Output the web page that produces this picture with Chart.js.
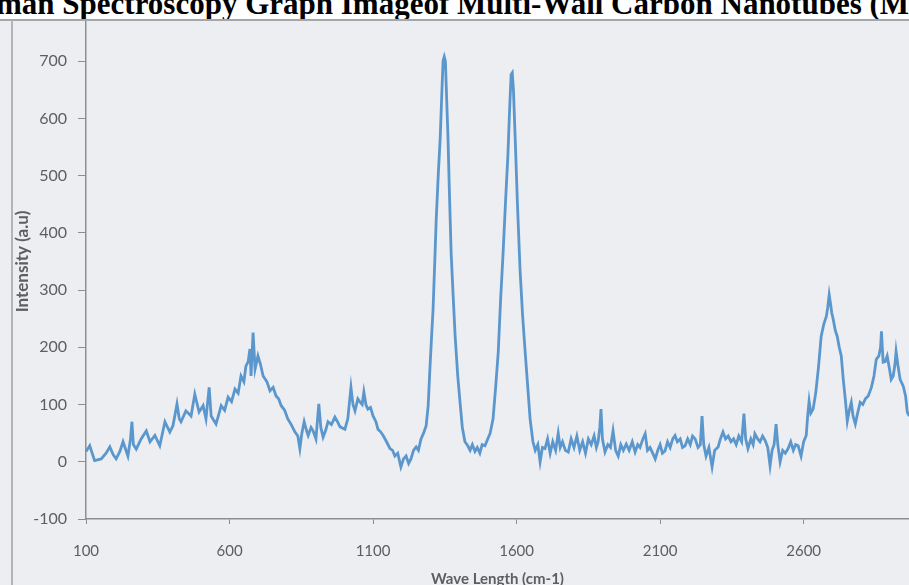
<!DOCTYPE html>
<html lang="en">
<head>
<meta charset="UTF-8">
<title>Raman Spectroscopy - MWCNTs</title>
<script src="https://cdn.jsdelivr.net/npm/chart.js"></script>
<style>
    html, body {
        margin: 0;
        padding: 0;
        background: #ffffff;
    }

    /* photographed sheet */
    .sheet {
        position: relative;
        width: 909px;
        height: 585px;
        overflow: hidden;
        background: #eceef2;
    }

    .sheet canvas {
        position: absolute;
        left: 0;
        top: 0;
    }

    /* caption of the document, cut at the top */
    .caption {
        position: absolute;
        left: 0;
        top: 0;
        width: 909px;
        height: 19px;
        overflow: hidden;
        background: #ffffff;
        z-index: 2;
    }

    .caption span {
        position: absolute;
        left: -4px;
        top: -12px;
        font-family: "Liberation Serif", serif;
        font-weight: bold;
        font-size: 31px;
        line-height: 31px;
        white-space: nowrap;
        color: #000;
    }

    .edge-top {
        position: absolute;
        left: 0;
        top: 19px;
        width: 909px;
        height: 2px;
        background: #a4a6aa;
        z-index: 2;
    }

    .edge-left {
        position: absolute;
        left: 11px;
        top: 20px;
        width: 2px;
        height: 565px;
        background: #b2b4b8;
        z-index: 2;
    }
</style>
</head>
<body>
<div class="sheet">
    <canvas id="raman" width="909" height="585"></canvas>
    <div class="caption"><span>man Spectroscopy Graph Imageof Multi-Wall Carbon Nanotubes (M</span></div>
    <div class="edge-top"></div>
    <div class="edge-left"></div>
</div>

<script>
    // Raman shift (cm-1) and intensity
    const waveNumbers = [
        100, 113, 130, 153, 170, 183, 195, 205, 218, 229, 246, 255, 260, 265, 275, 292, 310, 323, 340, 357,
        375, 392, 403, 417, 425, 431, 448, 466, 479, 494, 508, 518, 529, 536, 553, 571, 583, 595, 607, 619,
        630, 640, 650, 657, 665, 671, 675, 682, 689, 699, 708, 717, 730, 741, 752, 762, 771, 780, 792, 803,
        815, 828, 838, 845, 852, 860, 868, 874, 884, 891, 901, 911, 918, 926, 935, 943, 955, 967, 976, 985,
        1002, 1012, 1023, 1030, 1037, 1047, 1055, 1062, 1068, 1075, 1082, 1091, 1100, 1110, 1117, 1127, 1135, 1147, 1159, 1168,
        1176, 1186, 1197, 1206, 1215, 1224, 1232, 1241, 1250, 1258, 1267, 1276, 1285, 1292, 1298, 1304, 1309, 1315, 1320, 1327,
        1334, 1340, 1344, 1348, 1352, 1356, 1361, 1366, 1372, 1379, 1386, 1395, 1403, 1411, 1420, 1430, 1438, 1446, 1455, 1463,
        1472, 1480, 1490, 1498, 1508, 1518, 1527, 1536, 1544, 1553, 1562, 1570, 1576, 1581, 1585, 1589, 1595, 1603, 1612, 1621,
        1630, 1639, 1647, 1657, 1665, 1674, 1682, 1690, 1699, 1708, 1717, 1726, 1736, 1745, 1752, 1760, 1770, 1780, 1790, 1800,
        1810, 1820, 1830, 1840, 1850, 1860, 1870, 1878, 1884, 1890, 1894, 1899, 1908, 1918, 1927, 1936, 1945, 1954, 1963, 1972,
        1982, 1992, 2003, 2013, 2022, 2030, 2040, 2048, 2056, 2065, 2074, 2083, 2092, 2100, 2108, 2117, 2126, 2135, 2144, 2152,
        2160, 2170, 2178, 2187, 2196, 2205, 2213, 2222, 2232, 2240, 2246, 2252, 2260, 2270, 2281, 2290, 2302, 2310, 2319, 2328,
        2337, 2347, 2356, 2365, 2374, 2384, 2392, 2398, 2406, 2416, 2424, 2430, 2440, 2448, 2457, 2466, 2475, 2483, 2490, 2497,
        2504, 2510, 2518, 2527, 2536, 2546, 2555, 2564, 2572, 2581, 2591, 2600, 2609, 2614, 2619, 2625, 2633, 2642, 2651, 2656,
        2661, 2670, 2679, 2684, 2689, 2694, 2698, 2703, 2710, 2717, 2724, 2731, 2738, 2745, 2752, 2759, 2766, 2772, 2780, 2788,
        2797, 2806, 2815, 2825, 2836, 2845, 2853, 2862, 2868, 2871, 2874, 2877, 2884, 2891, 2898, 2905, 2912, 2918, 2922, 2928,
        2936, 2947, 2955, 2961, 2968
    ];

    const intensity = [
        18, 28, 2, 5, 15, 26, 12, 5, 18, 35, 10, 40, 70, 30, 22, 40, 54, 35, 46, 28,
        70, 52, 63, 101, 75, 70, 89, 80, 118, 87, 98, 75, 130, 80, 66, 98, 90, 113, 105, 127,
        120, 150, 140, 167, 175, 197, 150, 226, 162, 185, 170, 150, 140, 124, 130, 115, 110, 98, 90, 75,
        65, 52, 45, 23, 50, 70, 55, 46, 60, 54, 40, 101, 60, 43, 55, 70, 65, 78, 70, 61,
        57, 75, 130, 100, 89, 110, 104, 100, 122, 100, 92, 95, 80, 70, 57, 52, 46, 35, 23, 20,
        10, 15, -9, 5, 10, -3, 5, 20, 26, 20, 40, 50, 63, 98, 162, 220, 266, 350, 423, 500,
        567, 650, 701, 708, 700, 640, 567, 470, 365, 290, 219, 150, 104, 60, 35, 28, 20, 30, 18, 25,
        15, 30, 28, 38, 50, 75, 130, 191, 280, 365, 460, 539, 620, 677, 680, 650, 567, 450, 336, 255,
        191, 130, 75, 35, 20, 30, 0, 25, 23, 40, 15, 35, 20, 50, 25, 35, 20, 17, 40, 25,
        45, 20, 35, 15, 40, 30, 45, 25, 35, 60, 92, 40, 17, 30, 25, 54, 20, 10, 30, 20,
        31, 20, 35, 17, 30, 25, 40, 49, 20, 25, 15, 5, 20, 30, 15, 19, 35, 25, 40, 46,
        35, 40, 25, 28, 40, 30, 45, 40, 25, 30, 80, 30, 10, 25, -9, 20, 26, 40, 52, 40,
        45, 35, 40, 30, 45, 35, 84, 40, 23, 40, 30, 49, 40, 35, 45, 37, 25, -7, 20, 30,
        66, 30, 0, 20, 15, 23, 35, 20, 30, 28, 10, 35, 46, 80, 106, 85, 92, 120, 162, 190,
        219, 240, 254, 270, 292, 275, 260, 249, 230, 219, 200, 185, 144, 110, 71, 90, 104, 80, 66, 85,
        104, 100, 110, 115, 130, 150, 179, 185, 200, 228, 200, 174, 175, 185, 165, 144, 150, 170, 193, 170,
        144, 132, 115, 87, 80
    ];

    const xTicks = [100, 600, 1100, 1600, 2100, 2600];
    const yMin = -100;
    const yMax = 800;

    const axisGrey = '#8c8e92';
    const labelGrey = '#5c5e62';

    const points = waveNumbers.map((w, i) => ({ x: w, y: intensity[i] }));

    new Chart(document.getElementById('raman').getContext('2d'), {
        type: 'line',
        data: {
            datasets: [{
                label: 'Intensity',
                data: points,
                borderColor: '#5b97cc',
                borderWidth: 2.8,
                pointRadius: 0,
                tension: 0,
                fill: false
            }]
        },
        options: {
            responsive: false,
            animation: false,
            layout: { padding: { top: 4, right: 0, left: 0, bottom: 0 } },
            plugins: {
                legend: { display: false },
                tooltip: { enabled: false }
            },
            scales: {
                x: {
                    type: 'linear',
                    min: 100,
                    max: 2967,
                    afterBuildTicks: scale => {
                        scale.ticks = xTicks.map(v => ({ value: v }));
                    },
                    afterFit: scale => {
                        scale.height = 66;
                        scale.paddingRight = 0;
                    },
                    grid: {
                        drawOnChartArea: false,
                        drawTicks: true,
                        tickLength: 5,
                        color: axisGrey
                    },
                    border: { display: true, color: axisGrey, width: 1.5 },
                    ticks: {
                        color: labelGrey,
                        padding: 18,
                        maxRotation: 0,
                        autoSkip: false,
                        font: { family: 'Lato', size: 15 },
                        callback: v => String(v)
                    },
                    title: {
                        display: true,
                        text: 'Wave Length (cm-1)',
                        color: labelGrey,
                        font: { family: 'Lato', size: 15, weight: 'bold', lineHeight: 1.2 },
                        padding: { top: 0, bottom: -3 }
                    }
                },
                y: {
                    type: 'linear',
                    min: yMin,
                    max: yMax,
                    ticks: {
                        stepSize: 100,
                        color: labelGrey,
                        padding: 11,
                        font: { family: 'Lato', size: 16 },
                        callback: v => String(v)
                    },
                    afterFit: scale => {
                        scale.width = 86;
                        scale.paddingTop = 0;
                        scale.paddingBottom = 0;
                    },
                    grid: {
                        drawOnChartArea: false,
                        drawTicks: true,
                        tickLength: 8,
                        color: axisGrey
                    },
                    border: { display: true, color: axisGrey, width: 1.5 },
                    title: {
                        display: true,
                        text: 'Intensity (a.u)',
                        color: labelGrey,
                        font: { family: 'Lato', size: 17, weight: 'bold', lineHeight: 1.2 },
                        padding: { top: 12, bottom: 0 }
                    }
                }
            }
        }
    });
</script>
</body>
</html>
